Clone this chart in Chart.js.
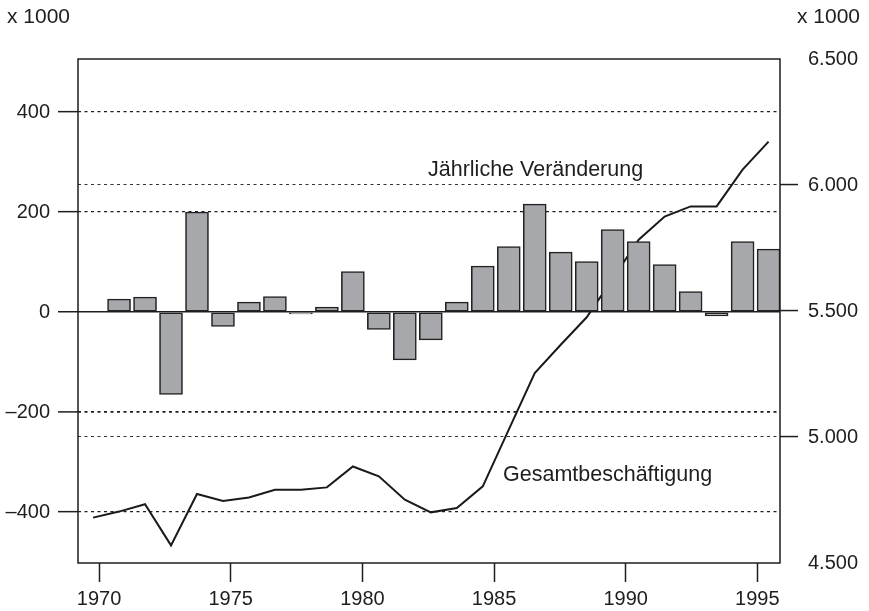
<!DOCTYPE html>
<html>
<head>
<meta charset="utf-8">
<script src="https://cdn.jsdelivr.net/npm/chart.js@4.4.1/dist/chart.umd.min.js"></script>
<style>
  html, body { margin: 0; padding: 0; background: #fff; }
  #wrap { width: 869px; height: 611px; }
</style>
</head>
<body>
<div id="wrap"><canvas id="chart" width="869" height="611"></canvas></div>
<script>
// values, x 1000 persons
const years = [1970, 1971, 1972, 1973, 1974, 1975, 1976, 1977, 1978, 1979, 1980, 1981, 1982, 1983,
    1984, 1985, 1986, 1987, 1988, 1989, 1990, 1991, 1992, 1993, 1994, 1995, 1996];
const changeYears = years.slice(1);
const annualChange = [26, 30, -165, 200, -29, 20, 31, -4, 10, 81, -35, -96, -56, 20,
    92, 131, 216, 120, 101, 165, 141, 95, 41, -8, 141, 126];
const totalEmployment = [4680, 4704, 4733, 4570, 4774, 4746, 4760, 4791, 4791, 4800, 4883, 4844, 4751, 4701,
    4718, 4804, 5029, 5254, 5366, 5475, 5628, 5783, 5875, 5915, 5915, 6061, 6172];
const yearTicks = [1970, 1975, 1980, 1985, 1990, 1995];
const leftTicks = [-400, -200, 0, 200, 400];
const rightTicks = [4500, 5000, 5500, 6000, 6500];

const FONT = "'Liberation Sans', Arial, Helvetica, sans-serif";
const INK = '#1e1e1e';

Chart.defaults.font.family = FONT;
Chart.defaults.font.size = 20;
Chart.defaults.color = INK;

// frame round the plot and the free texts
const notes = {
    id: 'notes',
    afterDraw(chart) {
        const ctx = chart.ctx;
        const a = chart.chartArea;
        ctx.save();
        ctx.strokeStyle = INK;
        ctx.lineWidth = 1.5;
        ctx.strokeRect(a.left, a.top, a.right - a.left, a.bottom - a.top);
        ctx.fillStyle = INK;
        ctx.textBaseline = 'alphabetic';
        ctx.textAlign = 'left';
        ctx.font = '21px ' + FONT;
        ctx.fillText('x 1000', 7, 23);
        ctx.fillText('x 1000', 797, 23);
        ctx.font = '21.5px ' + FONT;
        ctx.fillText('Jährliche Veränderung', 428, 176);
        ctx.fillText('Gesamtbeschäftigung', 503, 481);
        ctx.restore();
    }
};

const ctx = document.getElementById('chart').getContext('2d');

const chart = new Chart(ctx, {
    type: 'bar',
    data: {
        datasets: [{
            type: 'bar',
            label: 'Jährliche Veränderung',
            data: changeYears.map((y, i) => ({ x: y, y: annualChange[i] })),
            xAxisID: 'x',
            yAxisID: 'y',
            backgroundColor: '#a7a8ac',
            borderColor: '#222',
            borderWidth: 1.6,
            borderSkipped: false,
            barThickness: 23,
            order: 0
        }, {
            type: 'line',
            label: 'Gesamtbeschäftigung',
            data: years.map((y, i) => ({ x: y, y: totalEmployment[i] })),
            xAxisID: 'x',
            yAxisID: 'y2',
            borderColor: '#1a1a1a',
            borderWidth: 2,
            pointRadius: 0,
            tension: 0,
            fill: false,
            order: 1
        }]
    },
    options: {
        responsive: false,
        animation: false,
        devicePixelRatio: 1,
        layout: { padding: { top: 59, left: 0, right: 0, bottom: 0 } },
        plugins: {
            legend: { display: false },
            tooltip: { enabled: false }
        },
        scales: {
            // data axis, not shown
            x: {
                type: 'linear',
                display: false,
                min: 1969.42,
                max: 1996.44,
                offset: false,
                grid: { offset: false }
            },
            // year ticks as printed
            xt: {
                type: 'linear',
                position: 'bottom',
                min: 1969.2,
                max: 1995.86,
                offset: false,
                afterBuildTicks: (a) => { a.ticks = yearTicks.map(v => ({ value: v })); },
                afterFit: (a) => { a.height = 48; },
                grid: {
                    offset: false,
                    drawOnChartArea: false,
                    tickLength: 19,
                    tickColor: INK,
                    tickWidth: 1.5
                },
                border: { display: false },
                ticks: {
                    autoSkip: false,
                    maxRotation: 0,
                    padding: 5,
                    callback: (v) => String(v)
                }
            },
            y: {
                type: 'linear',
                position: 'left',
                min: -502,
                max: 506,
                afterBuildTicks: (a) => { a.ticks = leftTicks.map(v => ({ value: v })); },
                afterFit: (a) => { a.width = 78; },
                grid: {
                    tickLength: 20,
                    tickColor: INK,
                    tickWidth: 1.5,
                    color: INK,
                    lineWidth: (c) => {
                        if (!c.tick) return 1;
                        if (c.tick.value === 0) return 1.5;
                        return c.tick.value === -200 ? 1.8 : 1.3;
                    }
                },
                border: {
                    display: false,
                    dash: (c) => c.tick && c.tick.value === 0 ? [] : [3, 3.5]
                },
                ticks: {
                    padding: 8,
                    callback: (v) => v < 0 ? '\u2013' + Math.abs(v) : String(v)
                }
            },
            y2: {
                type: 'linear',
                position: 'right',
                min: 4500,
                max: 6500,
                afterBuildTicks: (a) => { a.ticks = rightTicks.map(v => ({ value: v })); },
                afterFit: (a) => { a.width = 89; },
                grid: {
                    tickLength: 18,
                    tickWidth: 1.5,
                    tickColor: (c) => c.tick && (c.tick.value === 4500 || c.tick.value === 6500) ? 'transparent' : INK,
                    color: (c) => c.tick && (c.tick.value === 5000 || c.tick.value === 6000) ? '#333' : 'transparent',
                    lineWidth: 1.1
                },
                border: { display: false, dash: [3, 3.5] },
                ticks: {
                    padding: 10,
                    callback: (v) => (v / 1000).toFixed(3)
                }
            }
        }
    },
    plugins: [notes]
});
</script>
</body>
</html>
